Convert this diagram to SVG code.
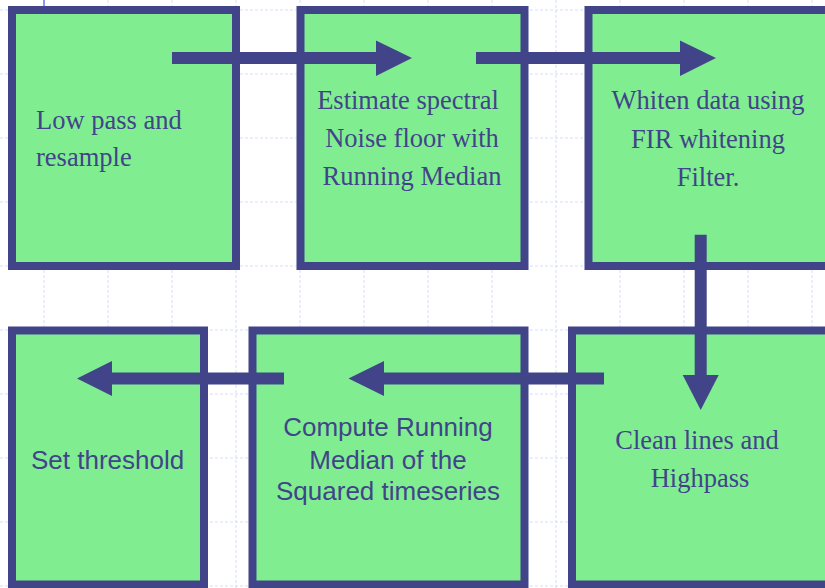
<svg xmlns="http://www.w3.org/2000/svg" width="825" height="588" viewBox="0 0 825 588">
<style>
.grid{stroke:#d6ddfa;stroke-width:1;stroke-dasharray:3 2;fill:none}
.box{fill:#80ee90;stroke:#414489;stroke-width:8}
.serif{font-family:"Liberation Serif","Times New Roman",serif;font-size:26.5px;fill:#414489}
.sans{font-family:"Liberation Sans",Arial,sans-serif;font-size:26px;fill:#414489}
.shaft{stroke:#414489;stroke-width:12;fill:none}
.head{fill:#414489}
</style>
<rect x="0" y="0" width="825" height="588" fill="#ffffff"/>
<g id="grid">
<path class="grid" d="M0 10H825M0 74H825M0 138H825M0 202H825M0 266H825M0 330H825M0 394H825M0 458H825M0 522H825M0 586H825"/>
<path class="grid" d="M44 0V588M108 0V588M172 0V588M236 0V588M300 0V588M364 0V588M428 0V588M492 0V588M556 0V588M620 0V588M684 0V588M748 0V588M812 0V588"/>
<line x1="44" y1="0" x2="44" y2="7" stroke="#6a78f0" stroke-width="1.5"/>
</g>
<g id="n1">
<rect class="box" x="12" y="10" width="224" height="256"/>
<text class="serif" x="36" y="129">Low pass and</text>
<text class="serif" x="36" y="166">resample</text>
</g>
<g id="n2">
<rect class="box" x="300.5" y="10" width="224" height="256"/>
<text class="serif" x="408" y="109" text-anchor="middle">Estimate spectral</text>
<text class="serif" x="412" y="147" text-anchor="middle">Noise floor with</text>
<text class="serif" x="412" y="185" text-anchor="middle">Running Median</text>
</g>
<g id="n3">
<rect class="box" x="588.5" y="10" width="250" height="256"/>
<text class="serif" x="708" y="109" text-anchor="middle">Whiten data using</text>
<text class="serif" x="708" y="147.5" text-anchor="middle">FIR whitening</text>
<text class="serif" x="708" y="185.5" text-anchor="middle">Filter.</text>
</g>
<g id="n4">
<rect class="box" x="572" y="330.5" width="266" height="254"/>
<text class="serif" x="697" y="448.5" text-anchor="middle">Clean lines and</text>
<text class="serif" x="700" y="487" text-anchor="middle">Highpass</text>
</g>
<g id="n5">
<rect class="box" x="252.5" y="330.5" width="272" height="254"/>
<text class="sans" x="388" y="436" text-anchor="middle">Compute Running</text>
<text class="sans" x="388" y="468.5" text-anchor="middle">Median of the</text>
<text class="sans" x="388" y="500" text-anchor="middle">Squared timeseries</text>
</g>
<g id="n6">
<rect class="box" x="12" y="330.5" width="192" height="254"/>
<text class="sans" x="31" y="469">Set threshold</text>
</g>
<g id="connectors">
<line class="shaft" x1="172" y1="58" x2="377" y2="58"/>
<polygon class="head" points="376,40.5 412,58 376,76"/>
<line class="shaft" x1="476" y1="58" x2="681" y2="58"/>
<polygon class="head" points="680,40.5 716,58 680,76"/>
<line class="shaft" x1="700.7" y1="234.7" x2="700.7" y2="376"/>
<polygon class="head" points="682.7,375 700.7,410 718.7,375"/>
<line class="shaft" x1="604" y1="378.5" x2="383" y2="378.5"/>
<polygon class="head" points="384,361 348.5,378.5 384,396"/>
<line class="shaft" x1="284" y1="378.5" x2="111" y2="378.5"/>
<polygon class="head" points="112,361 77,378.5 112,396"/>
</g>
</svg>
